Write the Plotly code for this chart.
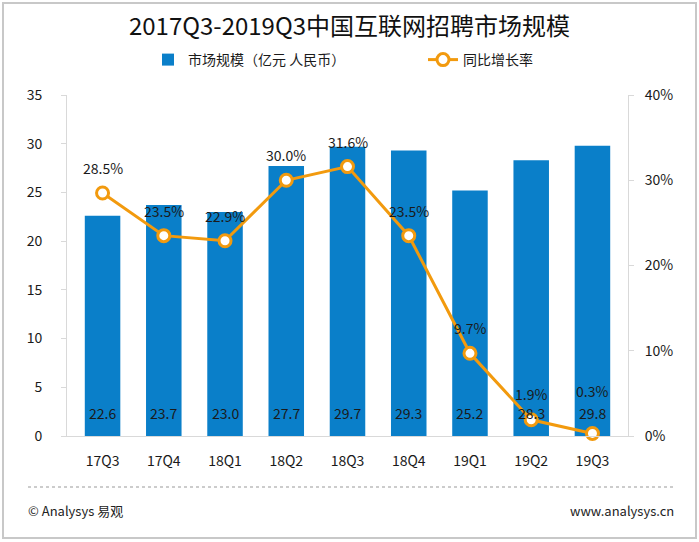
import plotly.graph_objects as go

categories = ["17Q3", "17Q4", "18Q1", "18Q2", "18Q3", "18Q4", "19Q1", "19Q2", "19Q3"]
market_size = [22.6, 23.7, 23.0, 27.7, 29.7, 29.3, 25.2, 28.3, 29.8]
growth_rate = [28.5, 23.5, 22.9, 30.0, 31.6, 23.5, 9.7, 1.9, 0.3]

# label offsets (style only, pixels above the point)
rate_label_shift = [25, 25, 25, 25, 25, 25, 25, 26, 42]

FONT = "Noto Sans CJK SC"
BLUE = "#0A7FC9"
ORANGE = "#F29A0E"

fig = go.Figure()
fig.add_trace(go.Bar(
    x=categories, y=market_size, name="市场规模（亿元 人民币）",
    marker=dict(color=BLUE, line=dict(width=0)),
    width=0.58, legend="legend",
))
fig.add_trace(go.Scatter(
    x=categories, y=growth_rate, name="同比增长率", yaxis="y2",
    mode="lines+markers",
    line=dict(color=ORANGE, width=3),
    marker=dict(size=12, color="white", line=dict(color=ORANGE, width=3)),
    cliponaxis=False, legend="legend2",
))

L, R, T, B = 67, 71, 95, 106
W, H = 699, 542
pw, ph = W - L - R, H - T - B
def px(x): return (x - L) / pw
def py(y): return (H - B - y) / ph

annotations = []
for c, v in zip(categories, market_size):
    annotations.append(dict(x=c, y=0, xref="x", yref="y", text=f"{v:.1f}", showarrow=False,
                            yanchor="bottom", yshift=11, font=dict(size=14, color="#1a1a1a")))
for c, v, s in zip(categories, growth_rate, rate_label_shift):
    annotations.append(dict(x=c, y=v, xref="x", yref="y2", text=f"{v:.1f}%", showarrow=False,
                            yanchor="middle", yshift=s, font=dict(size=14, color="#1a1a1a")))
annotations += [
    dict(text="© Analysys 易观", xref="paper", yref="paper", x=px(26), y=py(510),
         xanchor="left", yanchor="middle", showarrow=False, font=dict(size=13, color="#222")),
    dict(text="www.analysys.cn", xref="paper", yref="paper", x=px(676), y=py(510),
         xanchor="right", yanchor="middle", showarrow=False, font=dict(size=13, color="#222")),
]

legend_common = dict(orientation="h", xanchor="left", y=py(60), yanchor="middle",
                     font=dict(size=14, family=FONT), itemwidth=30,
                     bgcolor="rgba(0,0,0,0)")

fig.update_layout(
    width=W, height=H,
    margin=dict(l=L, r=R, t=T, b=B),
    paper_bgcolor="white", plot_bgcolor="white",
    font=dict(family=FONT, size=14, color="#1a1a1a"),
    showlegend=True,
    legend=dict(x=px(148), **legend_common),
    legend2=dict(x=px(423), **legend_common),
    xaxis=dict(showline=True, linecolor="#d9d9d9", ticks="", showgrid=False,
               tickfont=dict(size=14), automargin=False, ticklabelstandoff=12),
    yaxis=dict(range=[0, 35], dtick=5, showgrid=False, showline=True, linecolor="#d9d9d9",
               ticks="outside", tickcolor="#d9d9d9", ticklen=5, tickfont=dict(size=14),
               ticklabelstandoff=16, zeroline=False, automargin=False),
    yaxis2=dict(range=[0, 40], dtick=10, overlaying="y", side="right", showgrid=False,
                showline=True, linecolor="#d9d9d9", ticks="outside", tickcolor="#d9d9d9",
                ticklen=5, ticksuffix="%", tickfont=dict(size=14), zeroline=False,
                ticklabelstandoff=8, automargin=False),
    title=dict(text="2017Q3-2019Q3中国互联网招聘市场规模", x=0.5, xanchor="center",
               y=1 - 27 / H, yanchor="middle", font=dict(size=24, family=FONT, color="#111")),
    shapes=[
        dict(type="rect", xref="paper", yref="paper", x0=px(3), x1=px(696), y0=py(538), y1=py(3),
             line=dict(color="#c8c8c8", width=2), layer="below"),
        dict(type="line", xref="paper", yref="paper", x0=px(28), x1=px(676), y0=py(487), y1=py(487),
             line=dict(color="#999999", width=1, dash="dot")),
    ],
    annotations=annotations,
)

fig.write_html("out.html", config={"displayModeBar": False},
               post_script="document.body.style.margin='0';")
